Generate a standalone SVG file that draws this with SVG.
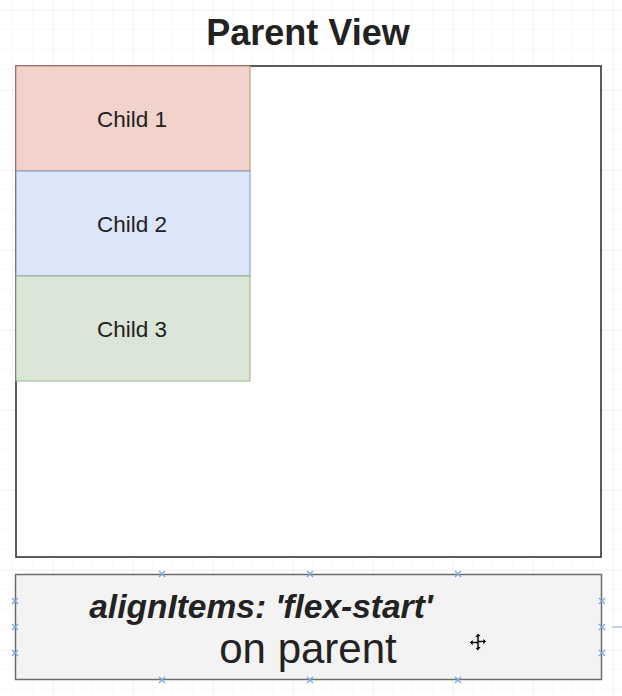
<svg xmlns="http://www.w3.org/2000/svg" width="622" height="696" viewBox="0 0 622 696">
<defs>
<pattern id="minor" x="13" y="10" width="20" height="20" patternUnits="userSpaceOnUse">
<path d="M20 0V20M0 20H20" fill="none" stroke="#f3f3f3" stroke-width="1"/>
</pattern>
<pattern id="major" x="53" y="10" width="80" height="80" patternUnits="userSpaceOnUse">
<path d="M0 0V80M0 0H80" fill="none" stroke="#ebebeb" stroke-width="1"/>
</pattern>
<g id="pt"><path d="M-3 -3L3 3M-3 3L3 -3" stroke="#7aa7df" stroke-width="1.3" fill="none"/></g>
</defs>
<style>
.lbl{font-family:"Liberation Sans",Arial,Helvetica,sans-serif;fill:#222;text-anchor:middle}
.child{font-size:22.5px}
</style>
<rect width="622" height="696" fill="#ffffff"/>
<rect width="622" height="696" fill="url(#minor)"/>
<rect width="622" height="696" fill="url(#major)"/>
<text class="lbl" x="308" y="45" font-size="36" font-weight="bold" fill="#111">Parent View</text>
<g id="parent">
<rect x="16" y="66" width="585" height="491" fill="#ffffff" stroke="#333333" stroke-width="1.6"/>
</g>
<g id="child1">
<rect x="16" y="66" width="234" height="105" fill="#f1d3cc" stroke="#c9867c" stroke-width="1"/>
<text class="lbl child" x="132" y="127">Child 1</text>
</g>
<g id="child2">
<rect x="16" y="171" width="234" height="105" fill="#dce6f8" stroke="#8198bf" stroke-width="1"/>
<text class="lbl child" x="132" y="232">Child 2</text>
</g>
<g id="child3">
<rect x="16" y="276" width="234" height="105" fill="#dbe5d8" stroke="#98b38c" stroke-width="1"/>
<text class="lbl child" x="132" y="337">Child 3</text>
</g>
<g id="note">
<rect x="15.5" y="574.5" width="586" height="105" fill="#f3f3f3" stroke="#6b6b6b" stroke-width="1.5"/>
<text class="lbl" x="261" y="618" font-size="33.5" font-weight="bold" font-style="italic" fill="#333">alignItems: 'flex-start'</text>
<text class="lbl" x="308" y="663" font-size="42" fill="#333">on parent</text>
<use href="#pt" x="162" y="574"/><use href="#pt" x="310" y="574"/><use href="#pt" x="458" y="574"/>
<use href="#pt" x="162" y="680"/><use href="#pt" x="310" y="680"/><use href="#pt" x="458" y="680"/>
<use href="#pt" x="15" y="601"/><use href="#pt" x="15" y="627"/><use href="#pt" x="15" y="653"/>
<use href="#pt" x="602" y="601"/><use href="#pt" x="602" y="627"/><use href="#pt" x="602" y="653"/>
<path d="M612 627H622" stroke="#a9c6ec" stroke-width="1.5"/>
<path d="M478 633l3.5 3.5h-2.3v3.8h3.8v-2.3l3.5 3.5-3.5 3.5v-2.3h-3.8v3.8h2.3L478 651l-3.5-3.5h2.3v-3.8h-3.8v2.3L469.5 642.5 473 639v2.3h3.8v-3.8h-2.3z" fill="#111" stroke="#ffffff" stroke-width="0.8"/>
</g>
<g id="connectors"></g>
</svg>
